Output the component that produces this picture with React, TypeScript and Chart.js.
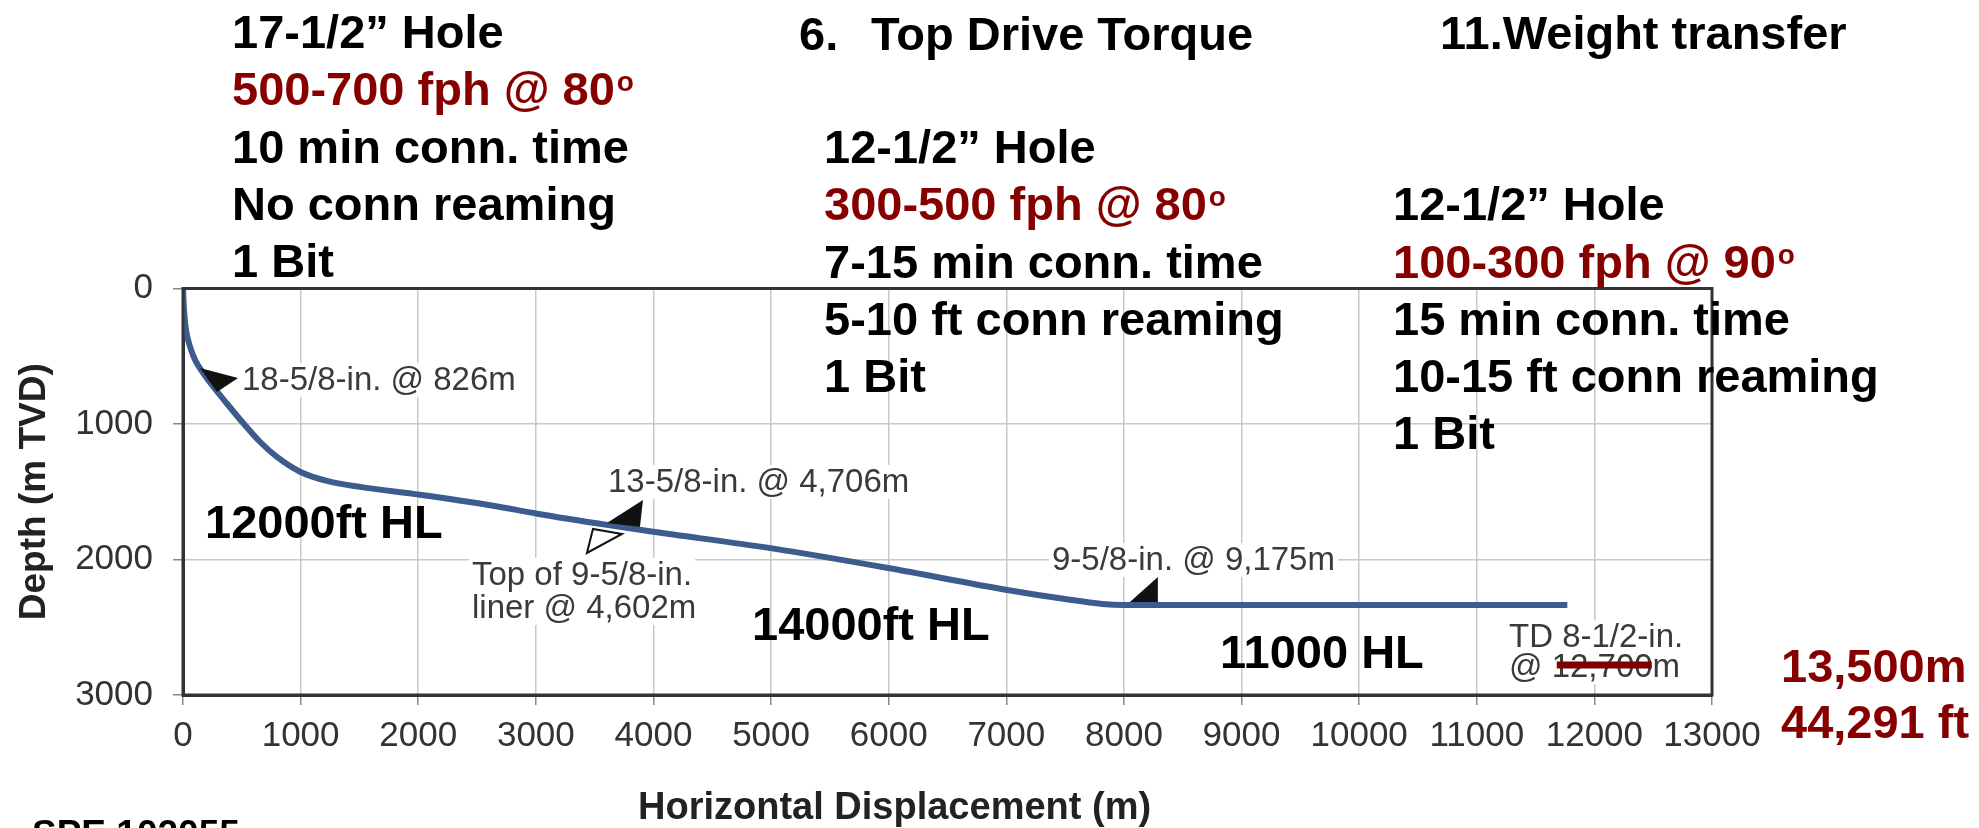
import React, { useEffect, useRef } from 'react';
import { Chart, registerables } from 'chart.js';

Chart.register(...registerables);

// ---------- data ----------
const horizontalDisplacement = [
  0, 8.5, 25.5, 59.5, 102, 173, 258, 371, 513, 654, 796, 995, 1224, 1505, 2015, 2636, 3010, 3631, 3997,
  5008, 5995, 7007, 7500, 7816, 8000, 9000, 10000, 11000, 11770,
];
const trueVerticalDepth = [
  0, 159, 306, 428, 526, 626, 725, 847, 995, 1131, 1241, 1352, 1420, 1464, 1522, 1603, 1662, 1748, 1795,
  1918, 2063, 2225, 2292, 2328, 2336, 2336, 2336, 2336, 2336,
];
const xTickValues = [0, 1000, 2000, 3000, 4000, 5000, 6000, 7000, 8000, 9000, 10000, 11000, 12000, 13000];
const xTickLabels = ['0', '1000', '2000', '3000', '4000', '5000', '6000', '7000', '8000', '9000', '10000', '11000', '12000', '13000'];
const yTickValues = [0, 1000, 2000, 3000];
const yTickLabels = ['0', '1000', '2000', '3000'];

// casing-shoe pointer triangles (data units: m horizontal, m TVD)
const shoeMarkerX = [
  [467.6, 144.5, 289.0],
  [3910.7, 3604.6, 3885.0],
  [3434.5, 3485.5, 3732.0],
  [8050.7, 8288.7, 8288.7],
];
const shoeMarkerY = [
  [660.5, 586.7, 763.8],
  [1560.9, 1730.6, 1760.1],
  [1952.0, 1774.9, 1811.8],
  [2313.7, 2129.0, 2313.7],
];
const shoeMarkerHollow = [false, false, true, false];
// strike-through over the old TD value (data units)
const strikeX = [11680, 12488];
const strikeY = 2778.6;

// ---------- text ----------
const FAMILY = '"Liberation Sans", Arial, Helvetica, sans-serif';
const RED = '#860000';
const BIG = `bold 47px ${FAMILY}`;
const NOTE = `33px ${FAMILY}`;

type Txt = { t: string; x: number; y: number; c?: string; f?: string; sup?: string };

const headerTexts: Txt[] = [
  { t: '17-1/2\u201D Hole', x: 232, y: 48 },
  { t: '500-700 fph @ 80', x: 232, y: 105, c: RED, sup: 'o' },
  { t: '10 min conn. time', x: 232, y: 163 },
  { t: 'No conn reaming', x: 232, y: 220 },
  { t: '1 Bit', x: 232, y: 277 },
  { t: '6.', x: 799, y: 50 },
  { t: 'Top Drive Torque', x: 871, y: 50 },
  { t: '11.Weight transfer', x: 1440, y: 49 },
  { t: '12-1/2\u201D Hole', x: 824, y: 163 },
  { t: '300-500 fph @ 80', x: 824, y: 220, c: RED, sup: 'o' },
  { t: '7-15 min conn. time', x: 824, y: 278 },
  { t: '5-10 ft conn reaming', x: 824, y: 335 },
  { t: '1 Bit', x: 824, y: 392 },
  { t: '12-1/2\u201D Hole', x: 1393, y: 220 },
  { t: '100-300 fph @ 90', x: 1393, y: 278, c: RED, sup: 'o' },
  { t: '15 min conn. time', x: 1393, y: 335 },
  { t: '10-15 ft conn reaming', x: 1393, y: 392 },
  { t: '1 Bit', x: 1393, y: 449 },
  { t: '12000ft HL', x: 205, y: 538 },
  { t: '14000ft HL', x: 752, y: 640 },
  { t: '11000 HL', x: 1220, y: 668 },
  { t: '13,500m', x: 1781, y: 682, c: RED },
  { t: '44,291 ft', x: 1781, y: 738, c: RED },
  { t: 'SPE 102055', x: 32, y: 846, f: `bold 37px ${FAMILY}` },
];

const noteTexts: Txt[] = [
  { t: '18-5/8-in. @ 826m', x: 242, y: 390 },
  { t: '13-5/8-in. @ 4,706m', x: 608, y: 492 },
  { t: 'Top of 9-5/8-in.', x: 472, y: 585 },
  { t: 'liner @ 4,602m', x: 472, y: 618 },
  { t: '9-5/8-in. @ 9,175m', x: 1052, y: 570 },
  { t: 'TD 8-1/2-in.', x: 1509, y: 647 },
  { t: '@ 12,700m', x: 1509, y: 677 },
];

const xTitle = { t: 'Horizontal Displacement (m)', x: 638, y: 819, f: `bold 38px ${FAMILY}` };

const overlayPlugin = {
  id: 'overlay',
  beforeDatasetsDraw(chart: any) {
    const ctx = chart.ctx as CanvasRenderingContext2D;
    ctx.save();
    ctx.font = NOTE;
    ctx.fillStyle = '#ffffff';
    for (const n of noteTexts) {
      const w = ctx.measureText(n.t).width;
      ctx.fillRect(n.x - 3, n.y - 27, w + 6, 34);
    }
    ctx.restore();
  },
  afterDatasetsDraw(chart: any) {
    const ctx = chart.ctx as CanvasRenderingContext2D;
    const xs = chart.scales.x;
    const ys = chart.scales.y;
    const a = chart.chartArea;
    ctx.save();
    // full box border
    ctx.strokeStyle = '#333';
    ctx.lineWidth = 3;
    ctx.strokeRect(a.left, a.top, a.right - a.left, a.bottom - a.top);

    // shoe markers
    shoeMarkerX.forEach((px, i) => {
      ctx.beginPath();
      px.forEach((vx, j) => {
        const X = xs.getPixelForValue(vx);
        const Y = ys.getPixelForValue(shoeMarkerY[i][j]);
        if (j === 0) ctx.moveTo(X, Y);
        else ctx.lineTo(X, Y);
      });
      ctx.closePath();
      if (shoeMarkerHollow[i]) {
        ctx.fillStyle = '#ffffff';
        ctx.fill();
        ctx.strokeStyle = '#111';
        ctx.lineWidth = 2;
        ctx.stroke();
      } else {
        ctx.fillStyle = '#111';
        ctx.fill();
      }
    });

    // notes
    ctx.textAlign = 'left';
    ctx.textBaseline = 'alphabetic';
    ctx.font = NOTE;
    ctx.fillStyle = '#3a3a3a';
    for (const n of noteTexts) ctx.fillText(n.t, n.x, n.y);

    // strike line
    ctx.strokeStyle = '#800000';
    ctx.lineWidth = 7;
    ctx.beginPath();
    ctx.moveTo(xs.getPixelForValue(strikeX[0]), ys.getPixelForValue(strikeY));
    ctx.lineTo(xs.getPixelForValue(strikeX[1]), ys.getPixelForValue(strikeY));
    ctx.stroke();

    // x axis title
    ctx.font = xTitle.f;
    ctx.fillStyle = '#222';
    ctx.fillText(xTitle.t, xTitle.x, xTitle.y);

    // big texts
    for (const h of headerTexts) {
      ctx.font = h.f || BIG;
      ctx.fillStyle = h.c || '#000';
      ctx.fillText(h.t, h.x, h.y);
      if (h.sup) {
        const w = ctx.measureText(h.t).width;
        ctx.font = `bold 28px ${FAMILY}`;
        ctx.fillText(h.sup, h.x + w + 2, h.y - 14);
      }
    }
    ctx.restore();
  },
};

export default function App() {
  const ref = useRef<HTMLCanvasElement | null>(null);

  useEffect(() => {
    if (!ref.current) return;
    const points = horizontalDisplacement.map((x, i) => ({ x, y: trueVerticalDepth[i] }));
    const tickFont = { family: FAMILY, size: 35 };
    const chart = new Chart(ref.current, {
      type: 'line',
      data: {
        datasets: [
          {
            data: points,
            borderColor: '#3d5c8e',
            borderWidth: 6,
            pointRadius: 0,
            cubicInterpolationMode: 'monotone',
            fill: false,
          },
        ],
      },
      options: {
        animation: false,
        responsive: false,
        devicePixelRatio: 1,
        layout: { padding: { left: 0, top: 288.5, right: 267, bottom: 0 } },
        plugins: { legend: { display: false }, tooltip: { enabled: false }, title: { display: false } },
        scales: {
          x: {
            type: 'linear',
            min: 0,
            max: 13000,
            afterFit: (s: any) => {
              s.height = 133;
            },
            afterBuildTicks: (s: any) => {
              s.ticks = xTickValues.map((v) => ({ value: v }));
            },
            ticks: {
              autoSkip: false,
              maxRotation: 0,
              padding: 10,
              color: '#333',
              font: tickFont,
              callback: (_v: any, i: number) => xTickLabels[i],
            },
            grid: { color: '#c8c8c8', lineWidth: 1.5, tickLength: 10, tickColor: '#888' },
            border: { color: '#333', width: 3 },
            title: { display: false },
          },
          y: {
            type: 'linear',
            min: 0,
            max: 3000,
            reverse: true,
            afterFit: (s: any) => {
              s.width = 183;
            },
            afterBuildTicks: (s: any) => {
              s.ticks = yTickValues.map((v) => ({ value: v }));
            },
            ticks: {
              autoSkip: false,
              padding: 20,
              color: '#333',
              font: tickFont,
              callback: (_v: any, i: number) => yTickLabels[i],
            },
            grid: { color: '#c8c8c8', lineWidth: 1.5, tickLength: 10, tickColor: '#888' },
            border: { color: '#333', width: 3 },
            title: {
              display: true,
              text: 'Depth (m TVD)',
              color: '#222',
              font: { family: FAMILY, size: 37, weight: 'bold' },
              padding: { top: 13, bottom: 0 },
            },
          },
        },
      },
      plugins: [overlayPlugin],
    } as any);
    return () => chart.destroy();
  }, []);

  return (
    <div style={{ position: 'fixed', left: 0, top: 0, width: 1979, height: 828, background: '#fff' }}>
      <canvas ref={ref} width={1979} height={828} style={{ display: 'block', width: 1979, height: 828 }} />
    </div>
  );
}
